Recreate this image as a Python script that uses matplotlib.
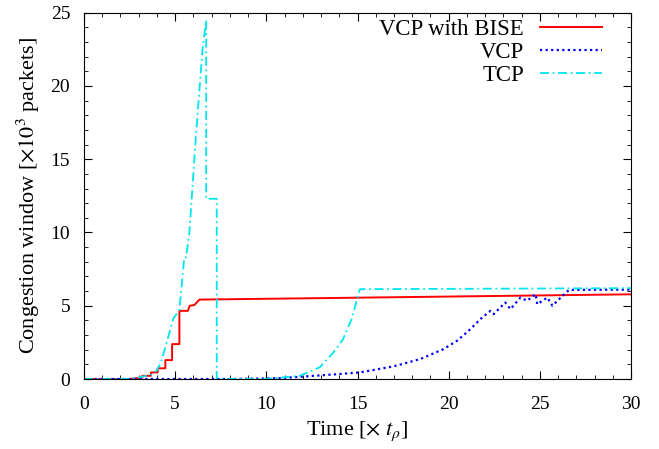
import matplotlib.pyplot as plt
from matplotlib.ticker import MultipleLocator

plt.rcParams['font.family'] = ['Liberation Serif', 'DejaVu Serif']
plt.rcParams['mathtext.fontset'] = 'stix'

# VCP with BISE (congestion window, x1000 packets)
bise_t = [0, 2.5, 3.2, 3.2, 3.67, 3.67, 4.04, 4.04, 4.46, 4.46, 4.83, 4.83,
          5.23, 5.23, 5.69, 5.8, 6.05, 6.33, 15, 30]
bise_w = [0, 0, 0.1, 0.22, 0.22, 0.45, 0.45, 0.73, 0.73, 1.29, 1.29, 2.38,
          2.38, 4.65, 4.65, 5.0, 5.05, 5.42, 5.55, 5.78]

# VCP
vcp_t = [0, 8, 10.7, 14.03, 15.13, 16.97, 18.44, 19.72, 20.46, 21.19, 21.74,
         22.29, 22.47, 23.1, 23.39, 23.94, 24.3, 24.77, 24.86, 25.41, 25.69,
         26.15, 26.6, 30]
vcp_w = [0, 0, 0.05, 0.34, 0.45, 0.86, 1.36, 2.04, 2.61, 3.4, 4.09,
         4.65, 4.43, 5.22, 4.77, 5.56, 5.34, 5.79, 5.1, 5.56, 5.0,
         5.56, 6.08, 6.1]

# TCP
tcp_t = [0, 2.5, 3.0, 3.7, 4.0, 4.22, 4.46, 4.9, 5.23, 5.5, 5.6, 5.78, 6.15,
         6.5, 6.7, 6.7, 7.28, 7.28, 10.0, 11.83, 12.93, 13.67, 14.2, 14.68,
         15.13, 30]
tcp_w = [0, 0, 0.1, 0.3, 0.6, 1.13, 2.16, 4.13, 4.7, 8.3, 8.3, 10.0, 16.8,
         22.5, 24.5, 12.3, 12.3, 0, 0, 0.22, 0.8, 1.8, 2.7, 4.1,
         6.13, 6.2]

fig = plt.figure(figsize=(6.59, 4.49), dpi=100)
ax = fig.add_axes([0.1275, 0.1559, 0.830, 0.8158])

ax.plot(bise_t, bise_w, color='#ff0000', lw=1.4, label='VCP with BISE')
ax.plot(vcp_t, vcp_w, color='#0000ff', lw=1.6, ls=(0, (1, 1.5)), label='VCP')
ax.plot(tcp_t, tcp_w, color='#00e5ee', lw=1.3, ls=(0, (5, 2, 1, 2)), label='TCP')

ax.set_xlim(0, 30)
ax.set_ylim(0, 25)
ax.xaxis.set_major_locator(MultipleLocator(5))
ax.xaxis.set_minor_locator(MultipleLocator(1))
ax.yaxis.set_major_locator(MultipleLocator(5))
ax.yaxis.set_minor_locator(MultipleLocator(1))
ax.tick_params(which='both', direction='in', top=True, right=True, labelsize=14)
ax.tick_params(axis='x', which='both', pad=12)
ax.tick_params(axis='y', which='both', pad=10)
ax.tick_params(which='major', length=6)
ax.tick_params(which='minor', length=3)

ax.set_xlabel(r'Time [$\times\ t_\rho$]', fontsize=16, labelpad=5)
ax.set_ylabel(r'Congestion window [$\times 10^3$ packets]', fontsize=16, labelpad=6)

ax.legend(loc='upper right', bbox_to_anchor=(0.952, 0.99), frameon=False,
          markerfirst=False, fontsize=16.4, handlelength=2.75,
          labelspacing=0.1, borderpad=0.1, borderaxespad=0, handletextpad=0.7)

fig.savefig('out.png', dpi=100)
